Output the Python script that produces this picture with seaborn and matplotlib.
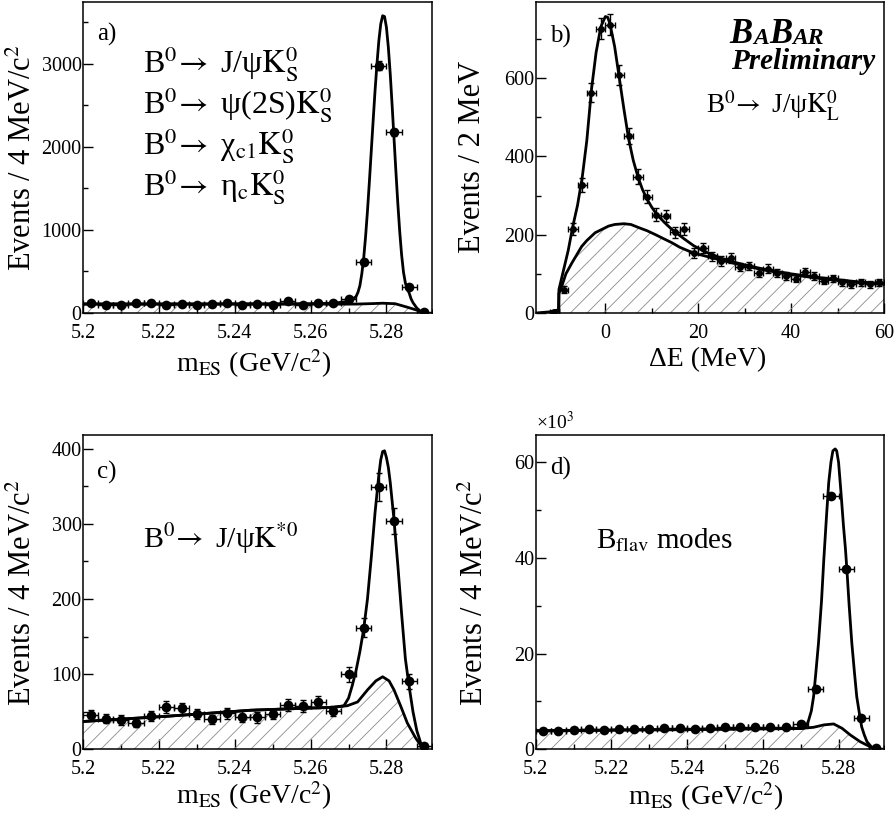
"""
BaBar B0 sample plots: m_ES for CP modes, Delta E for J/psi KL,
m_ES for J/psi K*0 and for B_flav modes.
Output: out.png
"""
import numpy as np
import matplotlib
matplotlib.use('Agg')
import matplotlib.pyplot as plt
from matplotlib.ticker import MultipleLocator, FormatStrFormatter
import seaborn as sns

sns.set_theme(style='ticks')
plt.rcParams['font.family'] = ['Liberation Serif', 'DejaVu Serif']
plt.rcParams['mathtext.fontset'] = 'stix'
plt.rcParams['hatch.linewidth'] = 0.6
for key in ['text.color', 'axes.labelcolor', 'xtick.color', 'ytick.color', 'axes.edgecolor']:
    plt.rcParams[key] = 'black'

# bin centres (4 MeV bins in m_ES, 2 MeV bins in Delta E)
MES_CENTERS = np.arange(5.202, 5.2905, 0.004)
DE_CENTERS = np.arange(-11, 60, 2)

# ---- a) CP modes with KS, m_ES
A_Y = [120, 100, 92, 120, 120, 100, 112, 100, 112, 120, 96, 112, 92, 148, 96,
       120, 120, 168, 620, 2980, 2175, 312, 8]
A_YERR = [11, 10, 10, 11, 11, 10, 11, 10, 11, 11, 10, 11, 10, 12, 10, 11, 11,
          13, 25, 55, 47, 18, 3]
A_FIT_X = [5.200, 5.220, 5.240, 5.260, 5.266, 5.270, 5.271, 5.272, 5.2725,
           5.273, 5.2735, 5.274, 5.2745, 5.275, 5.2755, 5.276, 5.2765, 5.277,
           5.2775, 5.278, 5.2785, 5.279, 5.2795, 5.280, 5.2805, 5.281, 5.2815,
           5.282, 5.2825, 5.283, 5.2835, 5.284, 5.2845, 5.285, 5.2855, 5.286,
           5.2865, 5.287, 5.288, 5.289, 5.290]
A_FIT_Y = [110, 110, 111, 112, 118, 140, 160, 200, 250, 330, 470, 660, 920,
           1230, 1580, 1950, 2320, 2680, 3000, 3280, 3480, 3580, 3570, 3440,
           3200, 2880, 2500, 2100, 1700, 1320, 980, 700, 490, 360, 290, 240,
           170, 125, 60, 20, 0]
A_BKG_X = [5.200, 5.250, 5.270, 5.2723, 5.2767, 5.279, 5.2823, 5.2855, 5.288, 5.290]
A_BKG_Y = [106, 107, 107, 108, 114, 118, 112, 70, 35, 0]

# ---- b) J/psi KL, Delta E
B_Y = [2, 60, 215, 326, 563, 726, 736, 607, 452, 348, 297, 251, 248, 206, 214,
       153, 165, 145, 133, 140, 117, 120, 103, 113, 103, 95, 87, 104, 95, 83,
       89, 78, 73, 78, 73, 78]
B_YERR = [2, 8, 15, 18, 24, 27, 27, 25, 21, 19, 17, 16, 16, 14, 15, 12, 13, 12,
          12, 12, 11, 11, 10, 11, 10, 10, 9, 10, 10, 9, 9, 9, 9, 9, 9, 9]
B_FIT_X = [-15, -12, -10.1, -10.0, -9, -8, -7, -6, -5, -4, -3, -2, -1, 0, 0.5,
           1, 2, 3, 4, 5, 6, 7, 8, 9, 10, 11, 12, 13, 14, 15, 17, 19, 21, 23,
           25, 28, 31, 35, 40, 45, 50, 55, 60]
B_FIT_Y = [0, 3, 8, 60, 110, 160, 222, 275, 345, 440, 570, 665, 730, 757, 755,
           738, 680, 600, 520, 445, 390, 348, 315, 290, 270, 253, 240, 228, 217,
           207, 189, 172, 159, 149, 140, 129, 120, 110, 100, 92, 85, 79, 75]
B_BKG_X = [-10.0, -10.0, -9.4, -8.5, -7.2, -6, -5.1, -4, -2.2, 0.7, 2, 4, 5.5,
           7.2, 9, 10.8, 12.5, 14.4, 16, 18, 20, 22, 25, 28, 31, 35, 40, 45, 50,
           55, 60]
B_BKG_Y = [0, 50, 68, 100, 128, 152, 170, 185, 205, 222, 226, 228, 226, 218,
           210, 200, 190, 179, 168, 158, 150, 144, 135, 126, 118, 108, 98, 90,
           83, 77, 73]

# ---- c) J/psi K*0, m_ES
C_Y = [45.6, 41, 39, 35.4, 44.3, 56.7, 54.5, 47, 40, 47.8, 43.4, 42.5, 47,
       58.5, 57.6, 62.9, 51, 100, 162, 349, 304, 90.8, 4.4]
C_YERR = [7, 6, 6, 6, 7, 8, 7, 7, 6, 7, 7, 7, 7, 8, 8, 8, 7, 10, 13, 19, 17, 10, 2]
C_FIT_X = [5.200, 5.2222, 5.2442, 5.2662, 5.2688, 5.270, 5.271, 5.272, 5.273,
           5.274, 5.275, 5.276, 5.277, 5.278, 5.2785, 5.279, 5.2795, 5.280,
           5.2805, 5.281, 5.2815, 5.282, 5.283, 5.284, 5.285, 5.286, 5.287,
           5.288, 5.289, 5.290]
C_FIT_Y = [37, 44, 52, 56, 58, 68, 85, 105, 130, 160, 200, 255, 315, 365, 385,
           396, 397, 388, 375, 355, 330, 305, 245, 180, 120, 83, 50, 25, 9, 1]
C_BKG_X = [5.200, 5.2222, 5.2442, 5.2662, 5.2697, 5.2724, 5.275, 5.2772, 5.279,
           5.2807, 5.282, 5.2838, 5.2855, 5.2877, 5.2895]
C_BKG_Y = [37, 44, 52, 56, 58, 63, 79, 91, 96.5, 91, 79, 57, 35, 15, 2]

# ---- d) B_flav modes, m_ES (x10^3)
D_Y = [3.9, 3.9, 4.0, 4.2, 4.0, 4.2, 4.3, 4.3, 4.5, 4.5, 4.3, 4.5, 4.6, 4.6,
       4.6, 4.7, 4.6, 5.3, 12.6, 52.8, 37.7, 6.5, 0.35]
D_YERR = [0.06, 0.06, 0.06, 0.06, 0.06, 0.06, 0.07, 0.07, 0.07, 0.07, 0.07,
          0.07, 0.07, 0.07, 0.07, 0.07, 0.07, 0.07, 0.11, 0.23, 0.19, 0.08, 0.02]
D_FIT_X = [5.200, 5.220, 5.240, 5.260, 5.2708, 5.2715, 5.2721, 5.2728, 5.2734,
           5.274, 5.2747, 5.2755, 5.2761, 5.2768, 5.2774, 5.278, 5.2785, 5.2791,
           5.2795, 5.280, 5.2806, 5.2813, 5.2818, 5.2822, 5.2828, 5.2835,
           5.2842, 5.2848, 5.2855, 5.2861, 5.2868, 5.2875, 5.2888, 5.2901]
D_FIT_Y = [3.9, 4.05, 4.2, 4.35, 4.4, 4.8, 6.1, 8.0, 11.0, 16.0, 22.2, 31.0,
           39.6, 48.5, 55.7, 60.0, 62.3, 62.7, 62.3, 59.9, 54.0, 46.6, 42.0,
           37.5, 30.0, 22.2, 16.0, 11.0, 7.5, 4.7, 3.0, 1.6, 0.4, 0.1]
D_BKG_X = [5.200, 5.240, 5.270, 5.2734, 5.2761, 5.2787, 5.2809, 5.2831, 5.2857,
           5.2883, 5.2901]
D_BKG_Y = [3.85, 4.1, 4.35, 4.6, 5.1, 5.3, 4.4, 3.0, 1.6, 0.56, 0.1]

MES_LABEL = r'm$_{\mathrm{ES}}$ (GeV/c$^2$)'
MES_YLABEL = r'Events / 4 MeV/c$^2$'
ARROW = r'$^0\!\rightarrow$ '


def draw_panel(ax, x, y, yerr, xerr, fit_x, fit_y, bkg_x, bkg_y, msize):
    ax.fill_between(bkg_x, 0, bkg_y, facecolor='none', edgecolor='0.55',
                    hatch='//', linewidth=0, zorder=1)
    sns.lineplot(x=bkg_x, y=bkg_y, ax=ax, color='black', lw=2,
                 estimator=None, sort=False, zorder=2)
    sns.lineplot(x=fit_x, y=fit_y, ax=ax, color='black', lw=2,
                 estimator=None, sort=False, zorder=2)
    ax.errorbar(x, y, xerr=xerr, yerr=yerr, fmt='none', ecolor='black',
                elinewidth=1, capsize=2.3, capthick=1, zorder=3)
    sns.scatterplot(x=x, y=y, ax=ax, color='black', s=msize ** 2,
                    edgecolor='black', linewidth=0, zorder=4)


def style_axes(ax, xlim, ylim, xmaj, xmin, ymaj, ymin):
    ax.set_xlim(*xlim)
    ax.set_ylim(*ylim)
    ax.xaxis.set_major_locator(MultipleLocator(xmaj))
    ax.xaxis.set_minor_locator(MultipleLocator(xmin))
    ax.yaxis.set_major_locator(MultipleLocator(ymaj))
    ax.yaxis.set_minor_locator(MultipleLocator(ymin))
    ax.xaxis.set_major_formatter(FormatStrFormatter('%g'))
    ax.yaxis.set_major_formatter(FormatStrFormatter('%g'))
    ax.tick_params(which='both', direction='in', top=False, right=False,
                   labelsize=14.5, colors='black')
    ax.tick_params(which='major', length=7, width=1)
    ax.tick_params(which='minor', length=3.5, width=1)
    ax.tick_params(axis='x', pad=8)
    ax.tick_params(axis='y', pad=1)
    for s in ax.spines.values():
        s.set_visible(True)
        s.set_linewidth(1.1)
        s.set_color('black')


fig = plt.figure(figsize=(8.96, 8.16), dpi=100)
ax_a = fig.add_axes([0.0926, 0.6164, 0.3895, 0.3816])
ax_b = fig.add_axes([0.5979, 0.6164, 0.3887, 0.3816])
ax_c = fig.add_axes([0.0926, 0.0817, 0.3895, 0.3852])
ax_d = fig.add_axes([0.5979, 0.0817, 0.3887, 0.3852])

# a)
draw_panel(ax_a, MES_CENTERS, A_Y, A_YERR, 0.002, A_FIT_X, A_FIT_Y,
           A_BKG_X, A_BKG_Y, 7)
style_axes(ax_a, (5.2, 5.292), (0, 3750), 0.02, 0.01, 1000, 500)
ax_a.set_xlabel(MES_LABEL, fontsize=20)
ax_a.set_ylabel(MES_YLABEL, fontsize=22)
ax_a.xaxis.set_label_coords(0.49, -0.11)
ax_a.yaxis.set_label_coords(-0.13, 0.5)
ax_a.text(0.04, 0.875, 'a)', transform=ax_a.transAxes, fontsize=18, va='baseline')
a_lines = ['B' + ARROW + r'J/ψ$\mathrm{K}^0_\mathrm{S}$',
           'B' + ARROW + r'ψ(2S)$\mathrm{K}^0_\mathrm{S}$',
           'B' + ARROW + r'χ$_{\mathrm{c1}}\mathrm{K}^0_\mathrm{S}$',
           'B' + ARROW + r'η$_{\mathrm{c}}\mathrm{K}^0_\mathrm{S}$']
for txt, yy in zip(a_lines, [0.772, 0.641, 0.510, 0.378]):
    ax_a.text(0.172, yy, txt, transform=ax_a.transAxes, fontsize=23, va='baseline')

# b)
draw_panel(ax_b, DE_CENTERS, B_Y, B_YERR, 1.0, B_FIT_X, B_FIT_Y,
           B_BKG_X, B_BKG_Y, 5)
style_axes(ax_b, (-15, 60), (0, 795), 20, 10, 200, 100)
ax_b.set_xlabel('ΔE (MeV)', fontsize=20)
ax_b.set_ylabel('Events / 2 MeV', fontsize=22)
ax_b.xaxis.set_label_coords(0.495, -0.11)
ax_b.yaxis.set_label_coords(-0.14, 0.5)
ax_b.text(0.041, 0.869, 'b)', transform=ax_b.transAxes, fontsize=18, va='baseline')
# BaBar logo: big B, small A, big B, small AR, chained left to right
logo_kw = dict(fontweight='bold', style='italic', va='bottom')
t = ax_b.text(0.556, 0.840, 'B', transform=ax_b.transAxes, fontsize=25, **logo_kw)
t = ax_b.annotate('A', xy=(1, 0), xycoords=t, xytext=(0.3, 1.5),
                  textcoords='offset points', fontsize=17, **logo_kw)
t = ax_b.annotate('B', xy=(1, 0), xycoords=t, xytext=(0.3, -1.5),
                  textcoords='offset points', fontsize=25, **logo_kw)
ax_b.annotate('AR', xy=(1, 0), xycoords=t, xytext=(0.3, 1.5),
              textcoords='offset points', fontsize=17, **logo_kw)
ax_b.text(0.561, 0.783, 'Preliminary', transform=ax_b.transAxes, fontsize=21,
          fontweight='bold', style='italic', va='baseline')
ax_b.text(0.489, 0.641, 'B' + ARROW + r'J/ψ$\mathrm{K}^0_\mathrm{L}$',
          transform=ax_b.transAxes, fontsize=19.5, va='baseline')

# c)
draw_panel(ax_c, MES_CENTERS, C_Y, C_YERR, 0.002, C_FIT_X, C_FIT_Y,
           C_BKG_X, C_BKG_Y, 7)
style_axes(ax_c, (5.2, 5.292), (0, 418), 0.02, 0.01, 100, 50)
ax_c.set_xlabel(MES_LABEL, fontsize=20)
ax_c.set_ylabel(MES_YLABEL, fontsize=22)
ax_c.xaxis.set_label_coords(0.49, -0.095)
ax_c.yaxis.set_label_coords(-0.13, 0.5)
ax_c.text(0.04, 0.86, 'c)', transform=ax_c.transAxes, fontsize=18, va='baseline')
ax_c.text(0.172, 0.64, 'B' + ARROW + r'J/ψ$\mathrm{K}^{*0}$', transform=ax_c.transAxes,
          fontsize=21.5, va='baseline')

# d)
draw_panel(ax_d, MES_CENTERS, D_Y, D_YERR, 0.002, D_FIT_X, D_FIT_Y,
           D_BKG_X, D_BKG_Y, 7)
style_axes(ax_d, (5.2, 5.292), (0, 65.6), 0.02, 0.01, 20, 10)
ax_d.set_xlabel(MES_LABEL, fontsize=20)
ax_d.set_ylabel(MES_YLABEL, fontsize=22)
ax_d.xaxis.set_label_coords(0.49, -0.1)
ax_d.yaxis.set_label_coords(-0.13, 0.5)
ax_d.text(0.041, 0.873, 'd)', transform=ax_d.transAxes, fontsize=18, va='baseline')
ax_d.text(0.173, 0.64, r'B$_{\mathrm{flav}}$ modes', transform=ax_d.transAxes,
          fontsize=21, va='baseline')
ax_d.text(0.0, 1.005, r'×10$^3$', transform=ax_d.transAxes, fontsize=14,
          ha='left', va='bottom')

fig.savefig('out.png', dpi=100)
plt.close(fig)
